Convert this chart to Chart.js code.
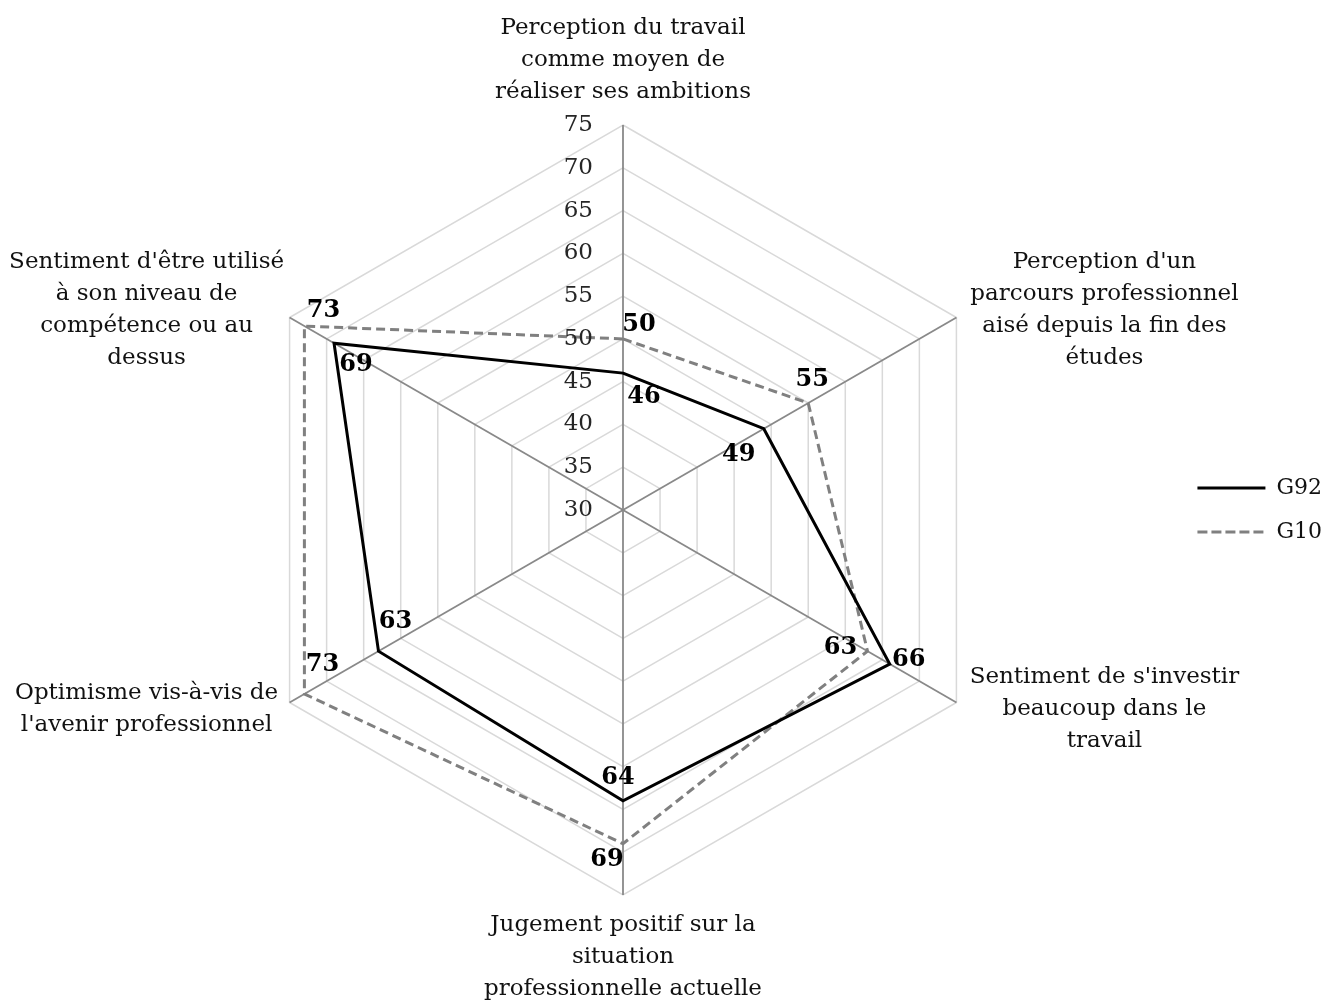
<!DOCTYPE html>
<html lang="fr">
<head>
<meta charset="utf-8">
<title>Radar G92 / G10</title>
<script src="https://cdn.jsdelivr.net/npm/chart.js@4.4.1/dist/chart.umd.min.js"></script>
<style>
  html, body { margin: 0; padding: 0; background: #fff; }
  #wrap { position: relative; width: 1336px; height: 1001px; }
</style>
</head>
<body>
<div id="wrap"><canvas id="radar"></canvas></div>
<script>
// axes, clockwise from the top
const categories = [
  ['Perception du travail', 'comme moyen de', 'réaliser ses ambitions'],
  ["Perception d'un", 'parcours professionnel', 'aisé depuis la fin des', 'études'],
  ["Sentiment de s'investir", 'beaucoup dans le', 'travail'],
  ['Jugement positif sur la', 'situation', 'professionnelle actuelle'],
  ['Optimisme vis-à-vis de', "l'avenir professionnel"],
  ["Sentiment d'être utilisé", 'à son niveau de', 'compétence ou au', 'dessus'],
];
const seriesNames = ['G92', 'G10'];
const g92 = [46, 49, 66, 64, 63, 69];
const g10 = [50, 55, 63, 69, 73, 73];
const axisMin = 30;
const axisMax = 75;
const axisStep = 5;

const FONT = "'DejaVu Serif', 'Liberation Serif', serif";
Chart.defaults.font.family = FONT;

// where each value label sits relative to its point [dx, dy]
const labelNudge = [
  [[21, 24], [-25, 26], [19, -4], [-5, -23], [17, -29], [22, 22]],   // G92
  [[16, -14], [4, -23], [-27, -3], [-16, 16], [18, -29], [19, -15]], // G10
];

// tick numbers to the left of the vertical axis
const tickText = {
  id: 'tickText',
  afterDatasetsDraw(chart) {
    const s = chart.scales.r;
    const ctx = chart.ctx;
    ctx.save();
    ctx.font = '23px ' + FONT;
    ctx.fillStyle = '#262626';
    ctx.textAlign = 'right';
    ctx.textBaseline = 'middle';
    s.ticks.forEach(t => {
      const y = s.yCenter - s.getDistanceFromCenterForValue(t.value);
      ctx.fillText(String(t.value), s.xCenter - 30, y);
    });
    ctx.restore();
  }
};

// category names around the web, centred lines like the original
const axisNames = {
  id: 'axisNames',
  afterDraw(chart) {
    const s = chart.scales.r;
    const ctx = chart.ctx;
    const lh = 32;
    ctx.save();
    ctx.font = '23px ' + FONT;
    ctx.fillStyle = '#111';
    ctx.textAlign = 'center';
    ctx.textBaseline = 'middle';
    chart.data.labels.forEach((lines, i) => {
      const p = s.getPointPosition(i, s.drawingArea);
      const n = lines.length;
      let cx, firstY;
      if (Math.abs(p.x - s.xCenter) < 2) {
        cx = p.x;
        firstY = p.y < s.yCenter ? p.y - 33 - (n - 1) * lh : p.y + 30;
      } else {
        cx = p.x + (p.x > s.xCenter ? 148 : -143);
        const mid = p.y + (p.y < s.yCenter ? -7 : 7);
        firstY = mid - (n - 1) * lh / 2;
      }
      lines.forEach((txt, k) => ctx.fillText(txt, cx, firstY + k * lh));
    });
    ctx.restore();
  }
};

// bold value labels next to each point
const valueLabels = {
  id: 'valueLabels',
  afterDraw(chart) {
    const ctx = chart.ctx;
    ctx.save();
    ctx.font = 'bold 24px ' + FONT;
    ctx.fillStyle = '#000';
    ctx.textAlign = 'center';
    ctx.textBaseline = 'middle';
    chart.data.datasets.forEach((ds, d) => {
      const meta = chart.getDatasetMeta(d);
      meta.data.forEach((pt, i) => {
        const [dx, dy] = labelNudge[d][i];
        ctx.fillText(String(ds.data[i]), pt.x + dx, pt.y + dy);
      });
    });
    ctx.restore();
  }
};

new Chart(document.getElementById('radar'), {
  type: 'radar',
  data: {
    labels: categories,
    datasets: [
      {
        label: seriesNames[0],
        data: g92,
        borderColor: '#000',
        backgroundColor: 'transparent',
        borderWidth: 3,
        pointRadius: 0,
        pointHitRadius: 0,
        fill: false,
      },
      {
        label: seriesNames[1],
        data: g10,
        borderColor: '#808080',
        backgroundColor: 'transparent',
        borderWidth: 3,
        borderDash: [9, 5],
        pointRadius: 0,
        pointHitRadius: 0,
        fill: false,
      },
    ],
  },
  options: {
    responsive: true,
    maintainAspectRatio: false,
    animation: false,
    layout: { padding: { top: 125, bottom: 106, left: 72, right: 4 } },
    elements: { line: { tension: 0 } },
    plugins: {
      tooltip: { enabled: false },
      legend: {
        display: true,
        position: 'right',
        labels: {
          boxWidth: 68,
          boxHeight: 0,
          padding: 22,
          color: '#111',
          font: { size: 22, family: FONT },
          generateLabels: (chart) => {
            const items = Chart.defaults.plugins.legend.labels.generateLabels(chart);
            return items.map((it, i) => ({
              ...it,
              lineDash: chart.data.datasets[i].borderDash || [],
              lineWidth: 3,
            }));
          },
        },
      },
    },
    scales: {
      r: {
        min: axisMin,
        max: axisMax,
        beginAtZero: false,
        ticks: { stepSize: axisStep, display: false },
        grid: { color: '#d9d9d9', lineWidth: 1.5 },
        angleLines: { color: '#898989', lineWidth: 1.8 },
        pointLabels: { display: false },
      },
    },
  },
  plugins: [tickText, axisNames, valueLabels],
});
</script>
</body>
</html>
